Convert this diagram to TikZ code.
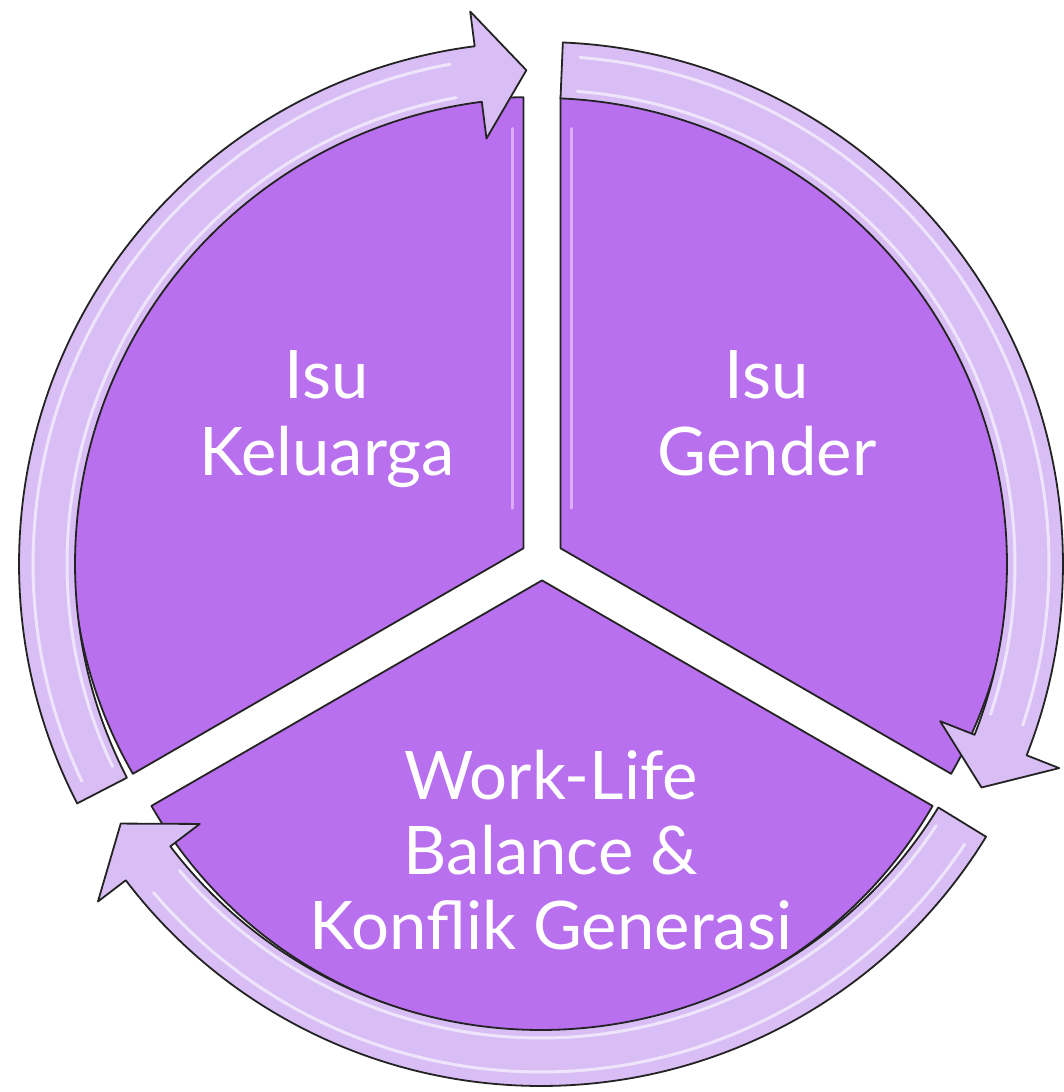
\documentclass[tikz,border=0pt]{standalone}
\usepackage{fontspec}
\setmainfont{Lato}
\definecolor{segfill}{RGB}{184,112,238}
\definecolor{ringfill}{RGB}{217,190,246}
\definecolor{edgecol}{RGB}{35,35,35}
\definecolor{glosscol}{RGB}{238,200,252}
\newcommand\myringarrow[3]{%
  \draw[ringarrow] (#1:522) arc[start angle=#1, end angle=#2, radius=522]
    -- (#2:557) -- (#3:494) -- (#2:429) -- (#2:466)
    arc[start angle=#2, end angle=#1, radius=466] -- cycle;
  \draw[shine] ({#1-2}:508) arc[start angle={#1-2}, end angle={#2+3}, radius=508];
  \draw[shine] ({#1-2}:474) arc[start angle={#1-2}, end angle={#2+3}, radius=474];
}
\newcommand\mysector[1]{%
  \draw[segment] (0,0) -- ({#1-60}:451) arc[start angle={#1-60}, end angle={#1+60}, radius=451] -- cycle;
}
\begin{document}
\begin{tikzpicture}[x=1pt,y=1pt,
  segment/.style={fill=segfill, draw=edgecol, line width=1.8pt, line join=round},
  ringarrow/.style={fill=ringfill, draw=edgecol, line width=1.8pt, line join=round},
  shine/.style={draw=white, line width=3pt, opacity=0.6, line cap=round},
  segshine/.style={draw=glosscol, line width=2.5pt, opacity=0.7, line cap=round},
  lbl/.style={text=white, font=\fontsize{67}{80}\selectfont, inner sep=0pt, anchor=base}]
\useasboundingbox (0,0) rectangle (1064,1092);

% pie segments
\begin{scope}[shift={(523.47,543.7)}]
  \mysector{150}
  \draw[segshine] (-11,40) -- (-11,420);
\end{scope}
\begin{scope}[shift={(560.53,543.7)}]
  \mysector{30}
  \draw[segshine] (11,40) -- (11,420);
\end{scope}
\begin{scope}[shift={(542,511.6)}]
  \mysector{270}
\end{scope}

% circular arrows
\begin{scope}[shift={(541,528)}]
  \myringarrow{207.3}{97.3}{91.7}
  \myringarrow{87.6}{-21.5}{-26.9}
  \myringarrow{328.5}{217.3}{211.7}
\end{scope}

% labels
\node[lbl] (kel1) at (327,693) {Isu};
\node[lbl] (kel2) at (327,616) {Keluarga};
\node[lbl] (gen1) at (767,693) {Isu};
\node[lbl] (gen2) at (767,616) {Gender};
\node[lbl] (wlb1) at (551,292) {Work-Life};
\node[lbl] (wlb2) at (551,217) {Balance \&};
\node[lbl] (wlb3) at (551,142) {Konflik Generasi};
\end{tikzpicture}
\end{document}
